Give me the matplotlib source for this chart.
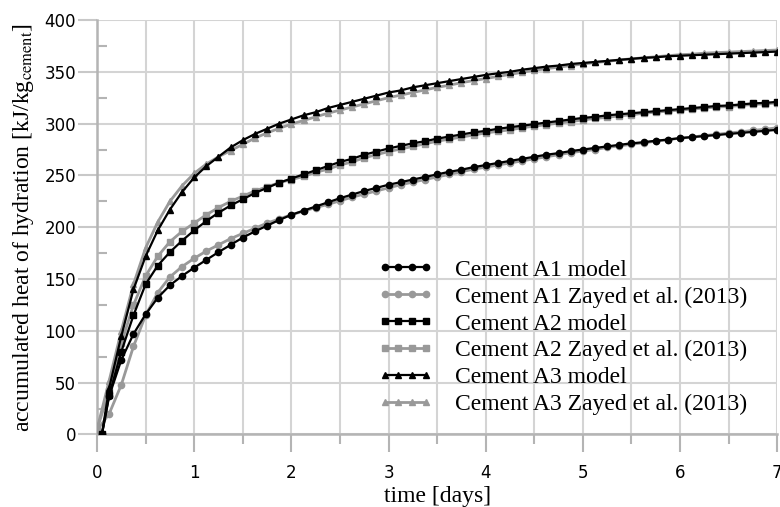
import numpy as np
import matplotlib
matplotlib.use('Agg')
import matplotlib.pyplot as plt
from matplotlib.ticker import MultipleLocator

plt.rcParams['mathtext.fontset'] = 'stix'

# time axis [days]: model output starts slightly after 0, measurements at 0
days_model = np.concatenate(([0.05], np.arange(0.125, 7.001, 0.125)))
days_exp = np.arange(0.0, 7.001, 0.125)

a1_model = [0, 37, 72, 97, 116, 132, 144, 153, 161, 168.5, 176, 183, 190, 196, 201.5, 207,
            212, 216, 220, 224, 228, 231.5, 235, 238, 241, 243.5, 246, 248.5, 251, 253.5,
            255.5, 258, 260, 262, 264, 266, 268, 270, 271.5, 273.5, 275, 276.5, 278, 279.5,
            281, 282, 283.5, 284.5, 286, 287, 288, 289, 290, 291, 292, 293, 294]
a1_exp = [4, 20, 48, 85, 115, 137, 152, 162, 170, 177, 183, 189, 194, 199, 204, 208,
          212, 215.5, 219, 222, 225.5, 229, 232, 235, 238, 241, 243.5, 246, 248.5, 251,
          253.5, 256, 258, 260, 262, 264, 266, 268, 270, 272, 273.5, 275, 277, 278.5,
          280, 281.5, 283, 284.5, 286, 287, 288.5, 289.5, 291, 292, 293.5, 294.5, 296]
a2_model = [0, 38, 80, 115, 145, 163, 176, 187, 197, 206, 214, 221, 227, 233, 238, 243,
            247, 251, 255, 259, 263, 266, 270, 273, 276, 278.5, 281, 283, 285.5, 287.5,
            289.5, 291.5, 293, 295, 296.5, 298, 299.5, 301, 302.5, 304, 305.5, 306.5, 308,
            309, 310, 311, 312, 313, 314, 315, 316, 317, 317.5, 318.5, 319.5, 320, 321]
a2_exp = [5, 42, 88, 125, 153, 172, 186, 196, 204, 212, 219, 225, 230, 235, 239, 243,
          246, 249, 253, 256, 260, 263, 267, 270, 273, 275.5, 278, 280.5, 283, 285,
          287, 289, 291, 292.5, 294, 296, 297.5, 299, 300.5, 302, 303.5, 305, 306, 307.5,
          308.5, 310, 311, 312, 313, 314, 315, 316, 316.5, 317.5, 318.5, 319, 320]
a3_model = [0, 45, 95, 140, 172, 197, 217, 234, 248, 259, 268, 277, 284, 290, 295, 300,
            304, 308, 311, 315, 318, 321, 324, 327, 330, 332, 335, 337, 339, 341, 343, 345,
            347, 348.5, 350, 352, 353.5, 355, 356, 357.5, 358.5, 359.5, 360.5, 361.5, 362.5,
            363.5, 364, 365, 365.5, 366, 366.5, 367, 367.5, 368, 368.5, 369, 369.5]
a3_exp = [5, 52, 100, 145, 180, 205, 225, 240, 252, 261, 268, 274, 280, 286, 291, 295.5,
          299.5, 303, 306.5, 310, 313, 316, 319, 322, 325, 327.5, 330, 332.5, 335, 337,
          339.5, 341.5, 343.5, 345.5, 347.5, 349.5, 351.5, 353, 354.5, 356, 357.5, 359,
          360, 361.5, 362.5, 363.5, 364.5, 365.5, 366.5, 367, 368, 368.5, 369, 369.5,
          370, 370.5, 371]

labels = ['Cement A1 model', 'Cement A1 Zayed et al. (2013)',
          'Cement A2 model', 'Cement A2 Zayed et al. (2013)',
          'Cement A3 model', 'Cement A3 Zayed et al. (2013)']

fig = plt.figure(figsize=(7.8, 5.07), dpi=100)
ax = fig.add_axes([0.1244, 0.143, 0.872, 0.8176])

grey = '#999999'
ax.plot(days_exp, a1_exp, color=grey, lw=2, marker='o', ms=4.5, label=labels[1], zorder=3)
ax.plot(days_model, a1_model, color='black', lw=1.6, marker='o', ms=4.5, label=labels[0], zorder=4)
ax.plot(days_exp, a2_exp, color=grey, lw=2, marker='s', ms=5, label=labels[3], zorder=3)
ax.plot(days_model, a2_model, color='black', lw=1.6, marker='s', ms=5, label=labels[2], zorder=4)
ax.plot(days_exp, a3_exp, color=grey, lw=2, marker='^', ms=5, label=labels[5], zorder=3)
ax.plot(days_model, a3_model, color='black', lw=1.6, marker='^', ms=5, label=labels[4], zorder=4)

ax.set_xlim(0, 7)
ax.set_ylim(0, 400)
ax.xaxis.set_major_locator(MultipleLocator(1))
ax.xaxis.set_minor_locator(MultipleLocator(0.5))
ax.yaxis.set_major_locator(MultipleLocator(50))
ax.yaxis.set_minor_locator(MultipleLocator(25))

ax.grid(True, which='both', axis='x', color='#d4d4d4', lw=1.5)
ax.grid(True, which='major', axis='y', color='#d4d4d4', lw=1.5)
ax.set_axisbelow(True)

for s in ['top', 'right']:
    ax.spines[s].set_visible(False)
for s in ['left', 'bottom']:
    ax.spines[s].set_color('#b4b4b4')
    ax.spines[s].set_linewidth(1.8)

ax.tick_params(axis='x', which='major', direction='out', length=13, width=1.5,
               color='#b4b4b4', labelsize=12, pad=8)
ax.tick_params(axis='x', which='minor', direction='out', length=7, width=1.5, color='#b4b4b4')
ax.tick_params(axis='y', which='major', direction='out', length=14, width=1.5,
               color='#c8c8c8', labelsize=12, pad=1)
ax.tick_params(axis='y', which='minor', direction='in', length=7, width=1.5, color='#b4b4b4')

ax.set_xlabel('time [days]', family='Liberation Serif', fontsize=17, labelpad=3)
ax.set_ylabel(r'accumulated heat of hydration [kJ/kg$_{\mathrm{cement}}$]',
              family='Liberation Serif', fontsize=17, labelpad=6)

handles, labs = ax.get_legend_handles_labels()
order = [labs.index(l) for l in labels]
leg = ax.legend([handles[i] for i in order], [labs[i] for i in order],
                loc='upper left', bbox_to_anchor=(0.484, 0.489), bbox_transform=fig.transFigure,
                frameon=False, numpoints=4, handlelength=2.35, handletextpad=0.95,
                labelspacing=0.23, borderaxespad=0, borderpad=0,
                prop={'family': 'Liberation Serif', 'size': 17})

fig.savefig('out.png', dpi=100)
